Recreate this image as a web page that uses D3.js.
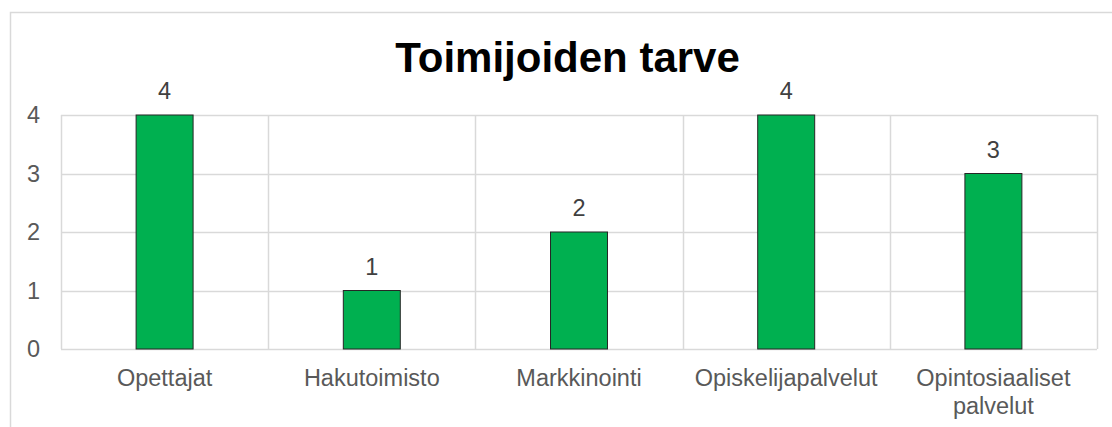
<!DOCTYPE html>
<html>
<head>
<meta charset="utf-8">
<script src="https://cdn.jsdelivr.net/npm/d3@7"></script>
<style>
  body { margin: 0; background: #fff; }
  text { font-family: "Liberation Sans", Arial, sans-serif; }
</style>
</head>
<body>
<div id="chart"></div>
<script>
// data
const categories = ["Opettajat", "Hakutoimisto", "Markkinointi", "Opiskelijapalvelut", "Opintosiaaliset palvelut"];
const values = [4, 1, 2, 4, 3];
const yTicks = [0, 1, 2, 3, 4];
const title = "Toimijoiden tarve";

const W = 1112, H = 427;
var margin = {top: 115, right: 15, bottom: 78, left: 61};
let width = W - margin.left - margin.right;
let height = H - margin.top - margin.bottom;

var svg = d3.select("#chart")
  .append("svg")
    .attr("width", W)
    .attr("height", H);

// outer chart border (runs off the picture at right and bottom)
svg.append("rect")
  .attr("x", 10.5).attr("y", 12.5)
  .attr("width", 1120).attr("height", 440)
  .attr("fill", "none")
  .attr("stroke", "#d9d9d9")
  .attr("stroke-width", 1.5);

// title
svg.append("text")
  .attr("x", 567.5)
  .attr("y", 72)
  .attr("text-anchor", "middle")
  .style("font-size", "42px")
  .style("font-weight", "bold")
  .style("fill", "#000")
  .text(title);

var g = svg.append("g")
  .attr("transform", "translate(" + margin.left + "," + margin.top + ")");

var x = d3.scaleBand()
  .domain(categories)
  .range([0, width])
  .paddingInner(0.725)
  .paddingOuter(0.3625);

var y = d3.scaleLinear()
  .domain([0, 4])
  .range([height, 0]);

// horizontal gridlines
g.append("g")
  .selectAll("line")
  .data(yTicks)
  .enter()
  .append("line")
    .attr("x1", 0).attr("x2", width)
    .attr("y1", d => Math.round(y(d)) + 0.5)
    .attr("y2", d => Math.round(y(d)) + 0.5)
    .attr("stroke", "#d9d9d9")
    .attr("stroke-width", 1.5);

// vertical gridlines at category boundaries
let step = width / categories.length;
g.append("g")
  .selectAll("line")
  .data(d3.range(0, categories.length + 1))
  .enter()
  .append("line")
    .attr("x1", d => Math.round(d * step) + 0.5)
    .attr("x2", d => Math.round(d * step) + 0.5)
    .attr("y1", 0).attr("y2", height)
    .attr("stroke", "#d9d9d9")
    .attr("stroke-width", 1.5);

// y tick labels
g.append("g")
  .selectAll("text")
  .data(yTicks)
  .enter()
  .append("text")
    .attr("x", -21)
    .attr("y", d => y(d))
    .attr("dy", "0.36em")
    .attr("text-anchor", "end")
    .style("font-size", "23.5px")
    .style("fill", "#595959")
    .text(d => d);

// bars
g.append("g")
  .selectAll("rect")
  .data(values)
  .enter()
  .append("rect")
    .attr("x", (d, i) => x(categories[i]))
    .attr("y", d => y(d))
    .attr("width", x.bandwidth())
    .attr("height", d => height - y(d))
    .attr("fill", "#00b050")
    .attr("stroke", "#262626")
    .attr("stroke-width", 1);

// data labels
g.append("g")
  .selectAll("text")
  .data(values)
  .enter()
  .append("text")
    .attr("x", (d, i) => x(categories[i]) + x.bandwidth() / 2)
    .attr("y", d => y(d) - 16)
    .attr("text-anchor", "middle")
    .style("font-size", "23.5px")
    .style("fill", "#404040")
    .text(d => d);

// category labels (wrapped)
let labels = g.append("g")
  .selectAll("text")
  .data(categories)
  .enter()
  .append("text")
    .attr("x", d => x(d) + x.bandwidth() / 2)
    .attr("y", height + 37)
    .attr("text-anchor", "middle")
    .style("font-size", "23.5px")
    .style("fill", "#595959");

labels.each(function (d) {
  let words = d.length > 18 ? d.split(" ") : [d];
  let t = d3.select(this);
  words.forEach((w, k) => {
    t.append("tspan")
      .attr("x", t.attr("x"))
      .attr("dy", k === 0 ? 0 : 28)
      .text(w);
  });
});
</script>
</body>
</html>
